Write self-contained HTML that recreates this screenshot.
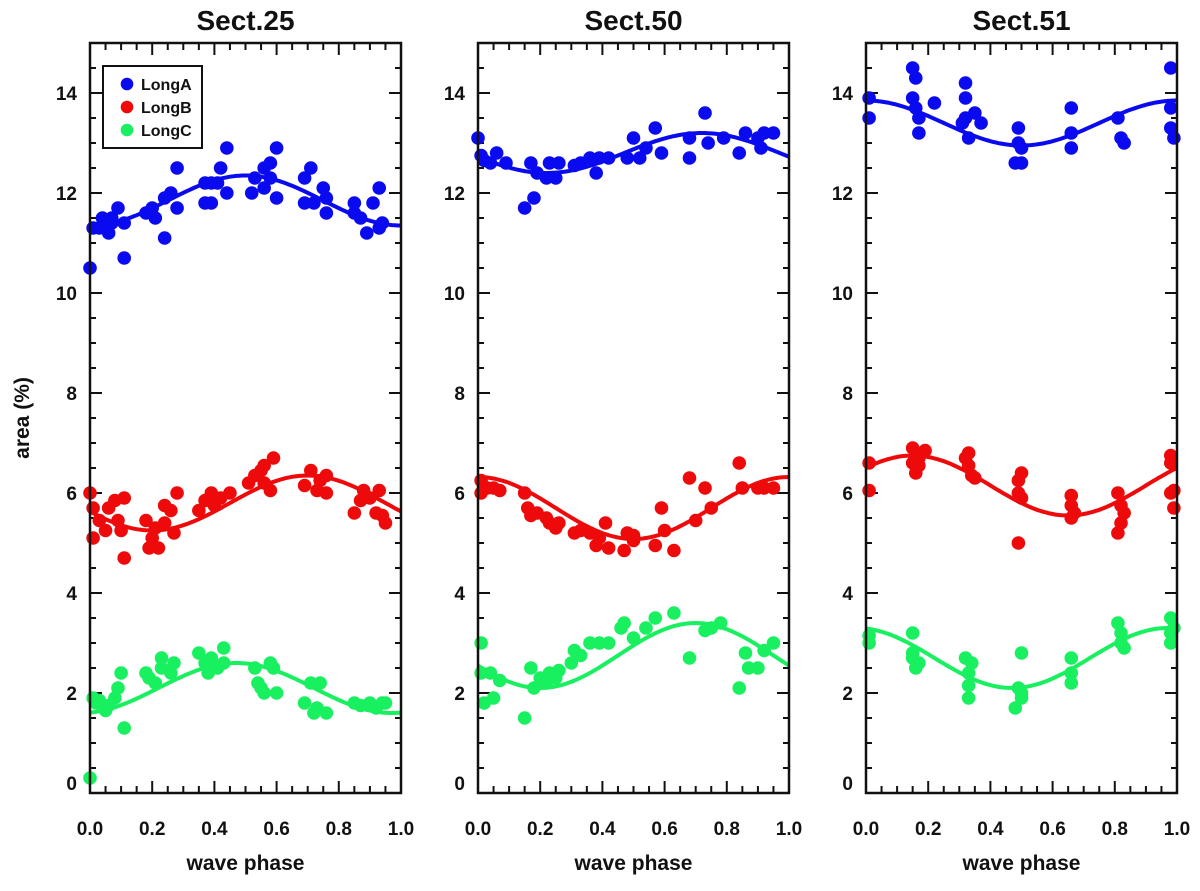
<!DOCTYPE html>
<html><head><meta charset="utf-8"><style>
body{margin:0;background:#fff;}
svg text{font-family:"Liberation Sans",Arial,sans-serif;font-weight:bold;fill:#111;}
</style></head><body>
<svg id="chart" width="1200" height="886" xmlns="http://www.w3.org/2000/svg"></svg>
<script>
// ---- data ----
const panelTitles = ["Sect.25","Sect.50","Sect.51"];
const seriesNames = ["LongA","LongB","LongC"];
const yTicks = [0,2,4,6,8,10,12,14];
const xTicks = ["0.0","0.2","0.4","0.6","0.8","1.0"];

const p1AX=[0,0.01,0.03,0.04,0.06,0.07,0.07,0.09,0.11,0.11,0.18,0.2,0.21,0.24,0.24,0.26,0.28,0.28,0.37,0.37,0.39,0.39,0.41,0.42,0.44,0.44,0.52,0.53,0.56,0.56,0.58,0.58,0.6,0.6,0.69,0.71,0.69,0.72,0.75,0.76,0.76,0.85,0.85,0.87,0.89,0.91,0.93,0.93,0.94];
const p1AY=[10.5,11.3,11.3,11.5,11.2,11.5,11.4,11.7,11.4,10.7,11.6,11.7,11.5,11.1,11.9,12.0,12.5,11.7,12.2,11.8,11.8,12.2,12.2,12.5,12.9,12.0,12.0,12.3,12.5,12.1,12.6,12.3,12.9,11.9,12.3,12.5,11.8,11.8,12.1,11.9,11.6,11.8,11.6,11.5,11.2,11.8,11.3,12.1,11.4];
const p1BX=[0,0.01,0.01,0.03,0.05,0.06,0.08,0.09,0.1,0.11,0.11,0.18,0.19,0.2,0.21,0.22,0.24,0.24,0.26,0.27,0.28,0.35,0.37,0.39,0.4,0.42,0.45,0.51,0.53,0.55,0.56,0.59,0.56,0.58,0.69,0.71,0.73,0.74,0.76,0.76,0.85,0.87,0.88,0.9,0.92,0.93,0.94,0.95];
const p1BY=[6.0,5.7,5.1,5.45,5.25,5.7,5.85,5.45,5.25,5.9,4.7,5.45,4.9,5.1,5.3,4.9,5.75,5.4,5.65,5.2,6.0,5.65,5.85,6.0,5.75,5.9,6.0,6.2,6.35,6.45,6.55,6.7,6.2,6.05,6.15,6.45,6.05,6.25,6.35,6.0,5.6,5.85,6.05,5.9,5.6,6.05,5.55,5.4];
const p1CX=[0,0.01,0.02,0.03,0.05,0.06,0.08,0.09,0.1,0.11,0.18,0.19,0.21,0.23,0.23,0.26,0.27,0.35,0.37,0.38,0.39,0.41,0.43,0.43,0.53,0.54,0.55,0.56,0.58,0.6,0.59,0.69,0.71,0.72,0.73,0.74,0.76,0.85,0.87,0.9,0.92,0.94,0.95];
const p1CY=[0.3,1.9,1.8,1.85,1.65,1.75,1.9,2.1,2.4,1.3,2.4,2.3,2.2,2.7,2.5,2.4,2.6,2.8,2.6,2.4,2.7,2.5,2.9,2.6,2.5,2.2,2.1,2.0,2.6,2.0,2.5,1.8,2.2,1.6,1.7,2.2,1.6,1.8,1.75,1.8,1.7,1.8,1.8];

const p2AX=[0,0.01,0.02,0.04,0.06,0.09,0.15,0.17,0.18,0.19,0.22,0.23,0.25,0.26,0.31,0.33,0.36,0.38,0.39,0.42,0.48,0.5,0.52,0.54,0.57,0.59,0.68,0.68,0.73,0.74,0.79,0.84,0.86,0.9,0.91,0.92,0.95];
const p2AY=[13.1,12.75,12.65,12.6,12.8,12.6,11.7,12.6,11.9,12.4,12.3,12.6,12.3,12.6,12.55,12.6,12.7,12.4,12.7,12.7,12.7,13.1,12.7,12.9,13.3,12.8,12.7,13.1,13.6,13.0,13.1,12.8,13.2,13.1,12.9,13.2,13.2];
const p2BX=[0.01,0.01,0.03,0.05,0.07,0.15,0.16,0.17,0.19,0.22,0.23,0.25,0.26,0.31,0.33,0.36,0.38,0.39,0.41,0.42,0.47,0.48,0.5,0.5,0.57,0.59,0.6,0.63,0.68,0.7,0.73,0.75,0.84,0.85,0.9,0.92,0.95];
const p2BY=[6.25,6.0,6.1,6.1,6.05,6.0,5.7,5.55,5.6,5.5,5.4,5.3,5.4,5.2,5.25,5.2,4.95,5.1,5.4,4.9,4.85,5.2,5.15,5.05,4.95,5.7,5.25,4.85,6.3,5.45,6.1,5.7,6.6,6.1,6.1,6.1,6.1];
const p2CX=[0.01,0.01,0.02,0.04,0.05,0.07,0.15,0.17,0.18,0.2,0.22,0.23,0.25,0.26,0.3,0.31,0.33,0.36,0.39,0.42,0.46,0.47,0.5,0.54,0.57,0.63,0.68,0.73,0.75,0.78,0.84,0.86,0.87,0.9,0.92,0.95];
const p2CY=[3.0,2.4,1.8,2.4,1.9,2.25,1.5,2.5,2.1,2.3,2.2,2.4,2.3,2.45,2.6,2.85,2.75,3.0,3.0,3.0,3.3,3.4,3.1,3.3,3.5,3.6,2.7,3.25,3.3,3.4,2.1,2.8,2.5,2.5,2.85,3.0];

const p3AX=[0.01,0.01,0.15,0.16,0.15,0.16,0.17,0.17,0.22,0.32,0.32,0.31,0.32,0.33,0.35,0.37,0.49,0.49,0.5,0.48,0.5,0.66,0.66,0.66,0.81,0.82,0.83,0.98,0.98,0.98,0.99];
const p3AY=[13.9,13.5,14.5,14.3,13.9,13.7,13.2,13.5,13.8,14.2,13.9,13.4,13.5,13.1,13.6,13.4,13.3,13.0,12.6,12.6,12.9,13.7,13.2,12.9,13.5,13.1,13.0,14.5,13.7,13.3,13.1];
const p3BX=[0.01,0.01,0.15,0.15,0.16,0.17,0.17,0.19,0.32,0.33,0.33,0.34,0.35,0.49,0.49,0.5,0.5,0.49,0.66,0.66,0.67,0.66,0.81,0.81,0.82,0.82,0.83,0.98,0.98,0.98,0.99,0.99];
const p3BY=[6.6,6.05,6.9,6.6,6.4,6.7,6.55,6.85,6.7,6.55,6.8,6.35,6.3,6.25,6.0,6.4,5.9,5.0,5.95,5.75,5.6,5.5,6.0,5.2,5.75,5.4,5.6,6.75,6.6,6.0,5.7,6.05];
const p3CX=[0.01,0.01,0.15,0.15,0.15,0.16,0.17,0.32,0.33,0.33,0.33,0.34,0.48,0.49,0.5,0.5,0.5,0.66,0.66,0.66,0.81,0.82,0.82,0.83,0.98,0.98,0.98,0.99];
const p3CY=[3.15,3.0,3.2,2.8,2.7,2.5,2.6,2.7,2.4,2.15,1.9,2.6,1.7,2.1,2.0,1.9,2.8,2.7,2.4,2.2,3.4,3.0,3.2,2.9,3.5,3.2,3.0,3.3];

// sinusoidal fits: mean, amplitude, phase of maximum
const fitMean=[[11.85,5.8,2.1],[12.8,5.7,2.75],[13.4,6.15,2.7]];
const fitAmp=[[0.5,0.55,0.5],[0.4,0.62,0.65],[0.45,0.6,0.6]];
const fitPeak=[[0.5,0.7,0.47],[0.72,0.0,0.7],[0.0,0.15,0.97]];

const panelX=[[p1AX,p1BX,p1CX],[p2AX,p2BX,p2CX],[p3AX,p3BX,p3CX]];
const panelY=[[p1AY,p1BY,p1CY],[p2AY,p2BY,p2CY],[p3AY,p3BY,p3CY]];
const colors=["#0a0af0","#ee0a0a","#19f060"];

// ---- drawing ----
const NS="http://www.w3.org/2000/svg";
const svg=document.getElementById('chart');
function mk(tag,attrs,parent){const e=document.createElementNS(NS,tag);for(const k in attrs)e.setAttribute(k,attrs[k]);(parent||svg).appendChild(e);return e;}
const lefts=[90,478,866], W=311, plotTop=43, plotBottom=793;
const yMax=15;
for(let p=0;p<3;p++){
  const x0=lefts[p];
  const sx=v=>x0+v*W;
  const sy=v=>plotBottom-v/yMax*(plotBottom-plotTop);
  const g=mk('g',{});
  
  
  const t=mk('text',{x:x0+W/2,y:30,'text-anchor':'middle','font-size':28},g);t.textContent=panelTitles[p];
  
  
  for(let i=0;i<=20;i++){const v=i*0.05;const L=(i%4===0)?12:7;
    mk('line',{x1:sx(v),x2:sx(v),y1:plotBottom,y2:plotBottom-L,stroke:'#111','stroke-width':2},g);
    mk('line',{x1:sx(v),x2:sx(v),y1:plotTop,y2:plotTop+L,stroke:'#111','stroke-width':2},g);}
  for(let i=0;i<=30;i++){const v=i*0.5;const L=(i%4===0)?12:6;
    mk('line',{x1:x0,x2:x0+L,y1:sy(v),y2:sy(v),stroke:'#111','stroke-width':2},g);
    mk('line',{x1:x0+W,x2:x0+W-L,y1:sy(v),y2:sy(v),stroke:'#111','stroke-width':2},g);}
  yTicks.forEach(v=>{const tt=mk('text',{x:x0-13,y:Math.min(sy(v)+7,plotBottom-3),'text-anchor':'end','font-size':19},g);tt.textContent=v;
    
    });
  xTicks.forEach(s=>{const tt=mk('text',{x:sx(parseFloat(s)),y:835,'text-anchor':'middle','font-size':19},g);tt.textContent=s;
    
    });
  const xt=mk('text',{x:x0+W/2,y:870,'text-anchor':'middle','font-size':21},g);xt.textContent='wave phase';
  
  
  for(let s=0;s<3;s++){
    const xs=panelX[p][s], ys=panelY[p][s];
    for(let i=0;i<xs.length;i++){const c=mk('circle',{cx:sx(xs[i]),cy:sy(ys[i]),r:6.8,fill:colors[s]},g);
      
      }
    let d='';
    for(let i=0;i<=100;i++){const v=i/100;const y=fitMean[p][s]+fitAmp[p][s]*Math.cos(2*Math.PI*(v-fitPeak[p][s]));d+=(i?'L':'M')+sx(v).toFixed(1)+','+sy(y).toFixed(1);}
    const pa=mk('path',{d:d,fill:'none',stroke:colors[s],'stroke-width':4},g);
    
    
  }
  mk('rect',{x:x0,y:plotTop,width:W,height:plotBottom-plotTop,fill:'none',stroke:'#111','stroke-width':2.5},g);
}
const yl=mk('text',{x:0,y:0,'text-anchor':'middle','font-size':21,transform:'translate(29,418) rotate(-90)'});yl.textContent='area (%)';


const lg=mk('g',{});


mk('rect',{x:103,y:66,width:99,height:82,fill:'#fff',stroke:'#111','stroke-width':2},lg);
seriesNames.forEach((n,i)=>{const e=mk('g',{},lg);
  
  
  mk('circle',{cx:127,cy:84+i*23,r:6.3,fill:colors[i]},e);
  const t=mk('text',{x:141,y:90+i*23,'font-size':16},e);t.textContent=n;});
</script>
</body></html>
